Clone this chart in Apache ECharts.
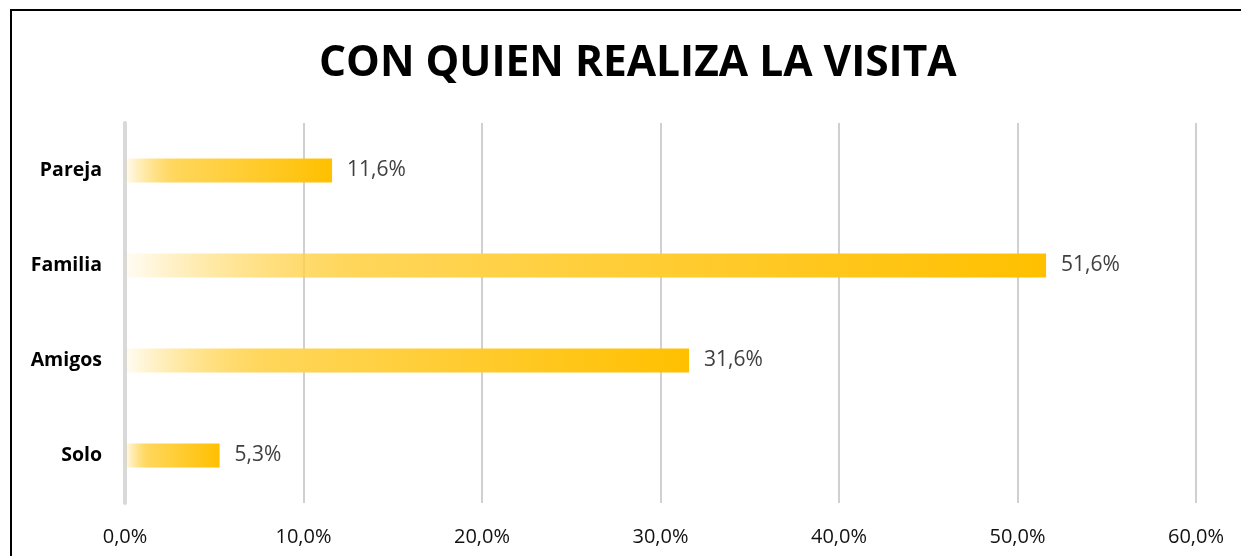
<!DOCTYPE html>
<html><head><meta charset="utf-8">
<script src="https://cdn.jsdelivr.net/npm/echarts@6/dist/echarts.min.js"></script>
<style>html,body{margin:0;padding:0;background:#fff}#c{width:1241px;height:556px}</style>
</head><body><div id="c"></div>
<script>
const categories = ['Solo', 'Amigos', 'Familia', 'Pareja'];
const values = [5.3, 31.6, 51.6, 11.6];
const titleText = 'CON QUIEN REALIZA LA VISITA';

const chart = echarts.init(document.getElementById('c'));
chart.setOption({
  animation: false,
  backgroundColor: '#fff',
  title: {
    text: titleText, left: 314, top: 37,
    textStyle: {fontFamily: 'Open Sans', fontWeight: 'bold', fontSize: 42.5, color: '#000'}
  },
  graphic: [{
    type: 'rect', shape: {x: 11, y: 10, width: 1300, height: 600},
    style: {fill: 'none', stroke: '#000', lineWidth: 2}, silent: true
  }],
  grid: {left: 125, right: 45, top: 123, bottom: 53, containLabel: false},
  xAxis: {
    type: 'value', min: 0, max: 60, interval: 10,
    axisLine: {show: false}, axisTick: {show: false},
    splitLine: {lineStyle: {color: '#d0d0d0', width: 2}},
    axisLabel: {formatter: v => v.toFixed(1).replace('.', ',') + '%', color: '#111', fontFamily: 'Open Sans', fontSize: 20, margin: 24}
  },
  yAxis: {
    type: 'category', data: categories,
    axisLine: {show: true, lineStyle: {color: '#d9d9d9', width: 4}},
    axisTick: {show: false},
    axisLabel: {color: '#000', fontWeight: 'bold', fontFamily: 'Open Sans', fontSize: 19.5, margin: 23}
  },
  series: [{
    type: 'bar', data: values, barWidth: 24,
    itemStyle: {color: new echarts.graphic.LinearGradient(0, 0, 1, 0, [
      {offset: 0, color: 'rgba(255,192,0,0.04)'},
      {offset: 0.25, color: '#ffd65a'},
      {offset: 1, color: '#ffc000'}
    ])},
    label: {show: true, position: 'right', distance: 15, color: '#404040', fontFamily: 'Open Sans', fontSize: 21,
      formatter: p => p.value.toFixed(1).replace('.', ',') + '%'}
  }]
});
</script></body></html>
